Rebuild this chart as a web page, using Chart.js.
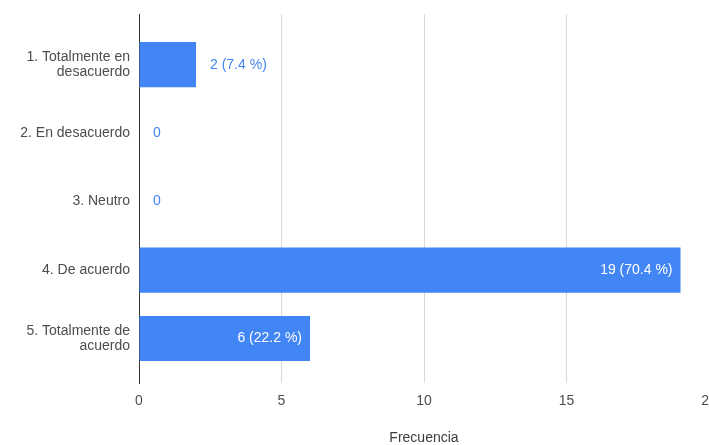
<!DOCTYPE html>
<html>
<head>
<meta charset="utf-8">
<script src="https://cdn.jsdelivr.net/npm/chart.js@4/dist/chart.umd.min.js"></script>
<style>
  html, body { margin: 0; padding: 0; background: #fff; }
  #wrap { width: 709px; height: 445px; }
</style>
</head>
<body>
<div id="wrap"><canvas id="chart"></canvas></div>
<script>
// Respuestas por opción
const categories = [
  ['1. Totalmente en', 'desacuerdo'],
  ['2. En desacuerdo'],
  ['3. Neutro'],
  ['4. De acuerdo'],
  ['5. Totalmente de', 'acuerdo']
];
const counts = [2, 0, 0, 19, 6];
const xTicks = [0, 5, 10, 15, 20];
const axisTitle = 'Frecuencia';

const total = counts.reduce((a, b) => a + b, 0);
const BLUE = '#4285f4';
const FONT = 'Arial, "Liberation Sans", sans-serif';

// Value labels: white inside long bars, blue just past short ones
const barLabels = {
  id: 'barLabels',
  afterDatasetsDraw(chart) {
    const ctx = chart.ctx;
    const meta = chart.getDatasetMeta(0);
    ctx.save();
    ctx.font = '14px ' + FONT;
    ctx.textBaseline = 'middle';
    meta.data.forEach((bar, i) => {
      const v = counts[i];
      const text = v === 0 ? '0' : `${v} (${(v / total * 100).toFixed(1)} %)`;
      const w = ctx.measureText(text).width;
      const barLen = bar.x - bar.base;
      if (barLen > w + 20) {
        ctx.fillStyle = '#ffffff';
        ctx.textAlign = 'right';
        ctx.fillText(text, bar.x - 8, bar.y);
      } else {
        ctx.fillStyle = BLUE;
        ctx.textAlign = 'left';
        ctx.fillText(text, bar.x + 14, bar.y);
      }
    });
    ctx.restore();
  }
};

new Chart(document.getElementById('chart'), {
  type: 'bar',
  data: {
    datasets: [{
      data: counts.map((v, i) => ({ x: v, y: i })),
      backgroundColor: BLUE,
      borderWidth: 0,
      categoryPercentage: 1,
      barPercentage: 0.66
    }]
  },
  options: {
    indexAxis: 'y',
    responsive: true,
    maintainAspectRatio: false,
    animation: false,
    layout: { padding: { top: 14, left: 0, right: 0, bottom: 0 } },
    plugins: { legend: { display: false }, tooltip: { enabled: false } },
    scales: {
      x: {
        type: 'linear',
        min: 0,
        max: 20,
        afterBuildTicks: s => { s.ticks = xTicks.map(v => ({ value: v })); },
        afterFit: s => { s.height = 62; s.paddingRight = 0; s.paddingLeft = 0; },
        grid: { color: '#d9d9d9', drawTicks: false },
        border: { display: false },
        ticks: { color: '#4d4d4d', font: { family: FONT, size: 14 }, padding: 10 },
        title: {
          display: true,
          text: axisTitle,
          color: '#3c3c3c',
          font: { family: FONT, size: 14 },
          padding: { top: 0, bottom: -2 }
        }
      },
      y: {
        type: 'linear',
        reverse: true,
        offset: false,
        min: -0.74,
        max: 4.65,
        afterBuildTicks: s => { s.ticks = categories.map((c, i) => ({ value: i })); },
        afterFit: s => { s.width = 139; s.paddingTop = 0; s.paddingBottom = 0; },
        grid: { display: false, drawTicks: false },
        border: { display: true, color: '#333', width: 1 },
        ticks: {
          color: '#4d4d4d',
          font: { family: FONT, size: 14, lineHeight: 1.1 },
          padding: 9,
          callback: v => categories[v]
        }
      }
    }
  },
  plugins: [barLabels]
});
</script>
</body>
</html>
